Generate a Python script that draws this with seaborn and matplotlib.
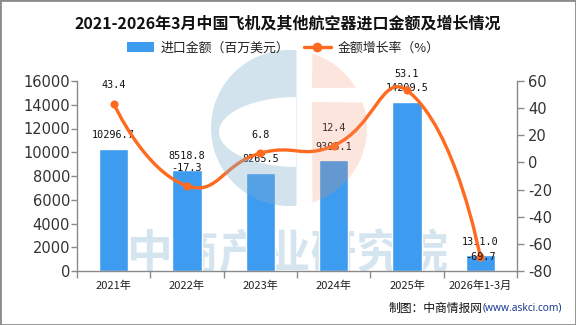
import matplotlib
matplotlib.use("Agg")
import matplotlib.pyplot as plt
import matplotlib.transforms as mtransforms
from matplotlib.path import Path
from matplotlib.patches import PathPatch, Patch, Rectangle, Polygon
from matplotlib.lines import Line2D
import seaborn as sns
import pandas as pd
import numpy as np

# ---------------- data ----------------
categories = ["2021年", "2022年", "2023年", "2024年", "2025年", "2026年1-3月"]
import_values = [10296.7, 8518.8, 8265.5, 9308.1, 14209.5, 1311.0]
growth_rates = [43.4, -17.3, 6.8, 12.4, 53.1, -69.7]
left_ticks = [0, 2000, 4000, 6000, 8000, 10000, 12000, 14000, 16000]
right_ticks = [-80, -60, -40, -20, 0, 20, 40, 60]
title = "2021-2026年3月中国飞机及其他航空器进口金额及增长情况"
bar_name = "进口金额（百万美元）"
line_name = "金额增长率（%）"

# ---------------- style ----------------
BAR_C = "#3d9cf0"
LINE_C = "#ff6a1f"
AX_C = "#8a8a8a"
TXT_C = "#333333"
W, H = 576, 325

sns.set_theme(style="white")
plt.rcParams["font.family"] = ["Noto Sans CJK SC", "DejaVu Sans"]
plt.rcParams["axes.unicode_minus"] = False

fig = plt.figure(figsize=(W / 100, H / 100), dpi=100)
fig.patch.set_facecolor("white")
ax = fig.add_axes([77 / W, 1 - 271 / H, 440 / W, 190 / H])
ax.set_facecolor("none")

df = pd.DataFrame({"cat": categories, "value": import_values, "rate": growth_rates})
sns.barplot(data=df, x="cat", y="value", color=BAR_C, saturation=1, width=0.4,
            order=categories, ax=ax, zorder=2)

ax2 = ax.twinx()
sns.scatterplot(data=df, x="cat", y="rate", color=LINE_C, s=34, edgecolor=LINE_C,
                linewidth=0, ax=ax2, zorder=4, legend=False)

ax.set_xlim(-0.5, len(categories) - 0.5)
ax.set_ylim(left_ticks[0], left_ticks[-1])
ax2.set_ylim(right_ticks[0], right_ticks[-1])

# axes styling
for s in ["top", "right"]:
    ax.spines[s].set_visible(False)
for s in ["top", "left"]:
    ax2.spines[s].set_visible(False)
ax.spines["left"].set_color(AX_C)
ax.spines["bottom"].set_color(AX_C)
ax2.spines["right"].set_color(AX_C)
ax2.spines["bottom"].set_visible(False)
for sp in [ax.spines["left"], ax.spines["bottom"], ax2.spines["right"]]:
    sp.set_linewidth(1.0)

ax.set_yticks(left_ticks)
ax.set_yticklabels([str(v) for v in left_ticks], fontfamily="DejaVu Sans", fontsize=10.5, color=TXT_C)
ax.tick_params(axis="y", left=True, length=4, width=1, color=AX_C, pad=1)
ax2.set_yticks(right_ticks)
ax2.set_yticklabels([str(v) for v in right_ticks], fontfamily="DejaVu Sans", fontsize=10.5, color=TXT_C)
ax2.tick_params(axis="y", right=True, length=5, width=1, color=AX_C, pad=3)

ax.set_xticks(range(len(categories)))
ax.set_xticklabels(categories, fontsize=8, color="#222222")
ax.tick_params(axis="x", which="major", length=0, pad=7)
ax.set_xticks(np.arange(-0.5, len(categories), 1.0), minor=True)
ax.tick_params(axis="x", which="minor", bottom=True, length=5, width=1, color=AX_C)
ax.set_xlabel("")
ax.set_ylabel("")
ax2.set_xlabel("")
ax2.set_ylabel("")
ax.grid(False)
ax2.grid(False)
ax.set_xlim(-0.5, len(categories) - 0.5)

# ---------------- smooth line (ECharts-like bezier) ----------------
xs = np.arange(len(categories), dtype=float)
pts = ax2.transData.transform(np.column_stack([xs, growth_rates]))
smooth = 0.5
n = len(pts)
cin, cout = [], []
for i in range(n):
    p = pts[i]
    if i == 0 or i == n - 1:
        cin.append(p)
        cout.append(p)
        continue
    prev, nxt = pts[i - 1], pts[i + 1]
    v = nxt - prev
    d0 = np.hypot(*(p - prev))
    d1 = np.hypot(*(nxt - p))
    tot = d0 + d1
    cin.append(p - v * smooth * d0 / tot)
    cout.append(p + v * smooth * d1 / tot)
verts = [pts[0]]
codes = [Path.MOVETO]
for i in range(n - 1):
    verts += [cout[i], cin[i + 1], pts[i + 1]]
    codes += [Path.CURVE4] * 3
verts_data = ax2.transData.inverted().transform(np.array(verts))
ax2.add_patch(PathPatch(Path(verts_data, codes), transform=ax2.transData, fill=False,
                        edgecolor=LINE_C, linewidth=2.4, zorder=3, capstyle="round"))

# ---------------- labels ----------------
LBL_FONT = "DejaVu Sans Mono"
for i, v in enumerate(import_values):
    ax.annotate(f"{v:.1f}", (i, v), xytext=(0, 10), textcoords="offset points",
                ha="center", va="center", fontsize=7.3, fontfamily=LBL_FONT, color="#111111", zorder=6)
rate_label_dy = [13, 13, 13, 13, 12, 0]
for i, r in enumerate(growth_rates):
    ax2.annotate(f"{r:.1f}", (i, r), xytext=(0, rate_label_dy[i]), textcoords="offset points",
                 ha="center", va="center", fontsize=7.3, fontfamily=LBL_FONT, color="#111111", zorder=6)

# ---------------- watermark ----------------
fig.text(288 / W, 1 - 255 / H, "中商产业研究院", ha="center", va="center", fontsize=33,
         fontweight="bold", color="#d4e5ef", zorder=-1)
ax.patch.set_visible(False)
ax2.patch.set_visible(False)

pix = mtransforms.Affine2D().scale(1 / fig.dpi) + fig.dpi_scale_trans


def to_disp(x, y):
    return np.column_stack([x, H - np.asarray(y)])


def sort_convex(p):
    c = p.mean(axis=0)
    ang = np.arctan2(p[:, 1] - c[1], p[:, 0] - c[0])
    return p[np.argsort(ang)]


cx, cy, r = 289.0, 128.0, 78.0
th = np.linspace(0, 2 * np.pi, 721)[:-1]
circ = np.column_stack([cx + r * np.cos(th), cy - r * np.sin(th)])

# blue half with bite
blue = sort_convex(circ[circ[:, 0] <= 297])
ex, ey, rx, ry = 297.0, 132.0, 78.0, 35.0
ell = np.column_stack([ex + rx * np.cos(th), ey - ry * np.sin(th)])
bite = sort_convex(ell[ell[:, 0] <= 297])[::-1]
outer = to_disp(blue[:, 0], blue[:, 1])
inner = to_disp(bite[:, 0], bite[:, 1])
vs = np.vstack([outer, outer[:1], inner, inner[:1]])
cs = ([Path.MOVETO] + [Path.LINETO] * (len(outer) - 1) + [Path.CLOSEPOLY]
      + [Path.MOVETO] + [Path.LINETO] * (len(inner) - 1) + [Path.CLOSEPOLY])
fig.add_artist(PathPatch(Path(vs, cs), transform=pix, facecolor="#7fb0d0", edgecolor="none",
                         alpha=0.35, zorder=5))

# orange half (split by a horizontal gap)
sel_up = circ[(circ[:, 0] >= 312) & (circ[:, 1] <= 88)]
up = sort_convex(np.vstack([sel_up, [[312, 88]]]))
sel_lo = circ[(circ[:, 0] >= 312) & (circ[:, 1] >= 102)]
lo = sort_convex(np.vstack([sel_lo, [[312, 102]]]))
for part in (up, lo):
    fig.add_artist(Polygon(to_disp(part[:, 0], part[:, 1]), closed=True, transform=pix,
                           facecolor="#f08a60", edgecolor="none", alpha=0.22, zorder=5))

# ---------------- title, legend, footer ----------------
fig.text(0.5, 1 - 24 / H, title, ha="center", va="center", fontsize=11.5,
         fontweight="bold", color="#111111")

handles = [Patch(facecolor=BAR_C, edgecolor="none"),
           Line2D([], [], color=LINE_C, lw=2.4, marker="o", markersize=6)]
fig.legend(handles, [bar_name, line_name], loc="center", bbox_to_anchor=(0.492, 1 - 48 / H),
           ncol=2, frameon=False, fontsize=9.3, handlelength=2.1, handleheight=0.7,
           handletextpad=0.5, columnspacing=1.1, labelcolor="#222222")

fig.text(483 / W, 1 - 308 / H, "制图：中商情报网", ha="right", va="center", fontsize=8.5, color="#111111")
fig.text(483 / W, 1 - 308 / H, "(www.askci.com)", ha="left", va="center", fontsize=7.3,
         color="#1a3a8c", fontfamily="Noto Sans")

fig.add_artist(Rectangle((0, 0), 1, 1, transform=fig.transFigure, fill=False,
                         edgecolor="#8c8c8c", linewidth=2, zorder=10))

fig.savefig("out.png", dpi=100)
